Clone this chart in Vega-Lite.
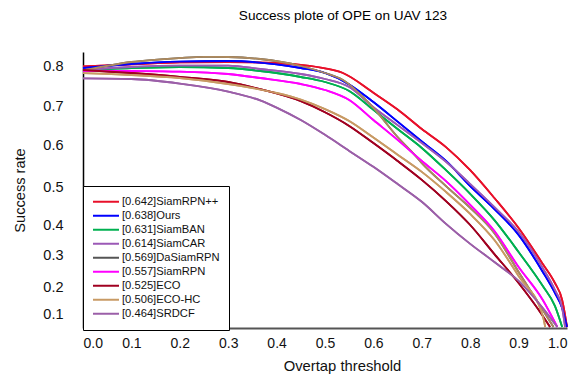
{
  "$schema": "https://vega.github.io/schema/vega-lite/v6.json",
  "width": 484,
  "height": 276,
  "autosize": "none",
  "padding": {"left": 83, "top": 52, "right": 9, "bottom": 47},
  "background": "white",
  "config": {"view": {"stroke": null}, "font": "Liberation Sans"},
  "title": {"text": "Success plote of OPE on UAV 123", "fontSize": 13.6, "fontWeight": "normal", "color": "#000", "frame": "group", "anchor": "middle", "dx": 18, "offset": 29},
  "data": {"values": [
    {"m":"[0.642]SiamRPN++","t":0,"v":0.799},{"m":"[0.642]SiamRPN++","t":0.1,"v":0.804},{"m":"[0.642]SiamRPN++","t":0.2,"v":0.809},{"m":"[0.642]SiamRPN++","t":0.3,"v":0.81},{"m":"[0.642]SiamRPN++","t":0.4,"v":0.8075},{"m":"[0.642]SiamRPN++","t":0.45,"v":0.8025},{"m":"[0.642]SiamRPN++","t":0.5,"v":0.794},{"m":"[0.642]SiamRPN++","t":0.537,"v":0.7825},{"m":"[0.642]SiamRPN++","t":0.6,"v":0.733},{"m":"[0.642]SiamRPN++","t":0.65,"v":0.691},{"m":"[0.642]SiamRPN++","t":0.7,"v":0.641},{"m":"[0.642]SiamRPN++","t":0.75,"v":0.595},{"m":"[0.642]SiamRPN++","t":0.8,"v":0.54},{"m":"[0.642]SiamRPN++","t":0.85,"v":0.471},{"m":"[0.642]SiamRPN++","t":0.9,"v":0.39},{"m":"[0.642]SiamRPN++","t":0.95,"v":0.272},{"m":"[0.642]SiamRPN++","t":0.975,"v":0.2125},{"m":"[0.642]SiamRPN++","t":0.99,"v":0.152},{"m":"[0.642]SiamRPN++","t":0.995,"v":0.107},{"m":"[0.642]SiamRPN++","t":1,"v":0.007},
    {"m":"[0.638]Ours","t":0,"v":0.795},{"m":"[0.638]Ours","t":0.1,"v":0.805},{"m":"[0.638]Ours","t":0.2,"v":0.811},{"m":"[0.638]Ours","t":0.3,"v":0.8125},{"m":"[0.638]Ours","t":0.4,"v":0.804},{"m":"[0.638]Ours","t":0.45,"v":0.795},{"m":"[0.638]Ours","t":0.5,"v":0.7825},{"m":"[0.638]Ours","t":0.55,"v":0.754},{"m":"[0.638]Ours","t":0.6,"v":0.71},{"m":"[0.638]Ours","t":0.65,"v":0.66},{"m":"[0.638]Ours","t":0.7,"v":0.609},{"m":"[0.638]Ours","t":0.75,"v":0.562},{"m":"[0.638]Ours","t":0.8,"v":0.502},{"m":"[0.638]Ours","t":0.85,"v":0.442},{"m":"[0.638]Ours","t":0.9,"v":0.367},{"m":"[0.638]Ours","t":0.95,"v":0.247},{"m":"[0.638]Ours","t":0.975,"v":0.178},{"m":"[0.638]Ours","t":0.99,"v":0.122},{"m":"[0.638]Ours","t":1,"v":0.007},
    {"m":"[0.631]SiamBAN","t":0,"v":0.79},{"m":"[0.631]SiamBAN","t":0.1,"v":0.795},{"m":"[0.631]SiamBAN","t":0.2,"v":0.7975},{"m":"[0.631]SiamBAN","t":0.3,"v":0.795},{"m":"[0.631]SiamBAN","t":0.366,"v":0.7875},{"m":"[0.631]SiamBAN","t":0.45,"v":0.7725},{"m":"[0.631]SiamBAN","t":0.5,"v":0.76},{"m":"[0.631]SiamBAN","t":0.55,"v":0.7375},{"m":"[0.631]SiamBAN","t":0.6,"v":0.69},{"m":"[0.631]SiamBAN","t":0.65,"v":0.641},{"m":"[0.631]SiamBAN","t":0.7,"v":0.593},{"m":"[0.631]SiamBAN","t":0.75,"v":0.54},{"m":"[0.631]SiamBAN","t":0.8,"v":0.482},{"m":"[0.631]SiamBAN","t":0.85,"v":0.413},{"m":"[0.631]SiamBAN","t":0.9,"v":0.31},{"m":"[0.631]SiamBAN","t":0.95,"v":0.203},{"m":"[0.631]SiamBAN","t":0.975,"v":0.13},{"m":"[0.631]SiamBAN","t":0.99,"v":0.007},
    {"m":"[0.614]SiamCAR","t":0,"v":0.79},{"m":"[0.614]SiamCAR","t":0.1,"v":0.7975},{"m":"[0.614]SiamCAR","t":0.2,"v":0.801},{"m":"[0.614]SiamCAR","t":0.3,"v":0.801},{"m":"[0.614]SiamCAR","t":0.366,"v":0.7925},{"m":"[0.614]SiamCAR","t":0.45,"v":0.78},{"m":"[0.614]SiamCAR","t":0.5,"v":0.7675},{"m":"[0.614]SiamCAR","t":0.55,"v":0.7475},{"m":"[0.614]SiamCAR","t":0.6,"v":0.697},{"m":"[0.614]SiamCAR","t":0.65,"v":0.651},{"m":"[0.614]SiamCAR","t":0.7,"v":0.605},{"m":"[0.614]SiamCAR","t":0.75,"v":0.56},{"m":"[0.614]SiamCAR","t":0.8,"v":0.507},{"m":"[0.614]SiamCAR","t":0.85,"v":0.447},{"m":"[0.614]SiamCAR","t":0.9,"v":0.377},{"m":"[0.614]SiamCAR","t":0.95,"v":0.259},{"m":"[0.614]SiamCAR","t":0.975,"v":0.189},{"m":"[0.614]SiamCAR","t":0.99,"v":0.122},{"m":"[0.614]SiamCAR","t":0.996,"v":0.007},
    {"m":"[0.569]DaSiamRPN","t":0,"v":0.789},{"m":"[0.569]DaSiamRPN","t":0.1,"v":0.81},{"m":"[0.569]DaSiamRPN","t":0.2,"v":0.82},{"m":"[0.569]DaSiamRPN","t":0.25,"v":0.823},{"m":"[0.569]DaSiamRPN","t":0.3,"v":0.8225},{"m":"[0.569]DaSiamRPN","t":0.366,"v":0.8175},{"m":"[0.569]DaSiamRPN","t":0.45,"v":0.8},{"m":"[0.569]DaSiamRPN","t":0.5,"v":0.7825},{"m":"[0.569]DaSiamRPN","t":0.537,"v":0.765},{"m":"[0.569]DaSiamRPN","t":0.6,"v":0.695},{"m":"[0.569]DaSiamRPN","t":0.65,"v":0.6205},{"m":"[0.569]DaSiamRPN","t":0.68,"v":0.583},{"m":"[0.569]DaSiamRPN","t":0.7,"v":0.557},{"m":"[0.569]DaSiamRPN","t":0.75,"v":0.502},{"m":"[0.569]DaSiamRPN","t":0.8,"v":0.445},{"m":"[0.569]DaSiamRPN","t":0.85,"v":0.373},{"m":"[0.569]DaSiamRPN","t":0.9,"v":0.247},{"m":"[0.569]DaSiamRPN","t":0.95,"v":0.115},{"m":"[0.569]DaSiamRPN","t":0.972,"v":0.007},
    {"m":"[0.557]SiamRPN","t":0,"v":0.788},{"m":"[0.557]SiamRPN","t":0.1,"v":0.7875},{"m":"[0.557]SiamRPN","t":0.2,"v":0.786},{"m":"[0.557]SiamRPN","t":0.3,"v":0.78},{"m":"[0.557]SiamRPN","t":0.366,"v":0.77},{"m":"[0.557]SiamRPN","t":0.45,"v":0.755},{"m":"[0.557]SiamRPN","t":0.5,"v":0.74},{"m":"[0.557]SiamRPN","t":0.55,"v":0.715},{"m":"[0.557]SiamRPN","t":0.6,"v":0.664},{"m":"[0.557]SiamRPN","t":0.65,"v":0.613},{"m":"[0.557]SiamRPN","t":0.7,"v":0.562},{"m":"[0.557]SiamRPN","t":0.75,"v":0.514},{"m":"[0.557]SiamRPN","t":0.8,"v":0.453},{"m":"[0.557]SiamRPN","t":0.85,"v":0.38},{"m":"[0.557]SiamRPN","t":0.9,"v":0.2625},{"m":"[0.557]SiamRPN","t":0.95,"v":0.152},{"m":"[0.557]SiamRPN","t":0.98,"v":0.007},
    {"m":"[0.525]ECO","t":0,"v":0.79},{"m":"[0.525]ECO","t":0.1,"v":0.7825},{"m":"[0.525]ECO","t":0.2,"v":0.773},{"m":"[0.525]ECO","t":0.3,"v":0.76},{"m":"[0.525]ECO","t":0.366,"v":0.742},{"m":"[0.525]ECO","t":0.45,"v":0.712},{"m":"[0.525]ECO","t":0.5,"v":0.684},{"m":"[0.525]ECO","t":0.55,"v":0.649},{"m":"[0.525]ECO","t":0.6,"v":0.605},{"m":"[0.525]ECO","t":0.65,"v":0.562},{"m":"[0.525]ECO","t":0.7,"v":0.517},{"m":"[0.525]ECO","t":0.75,"v":0.463},{"m":"[0.525]ECO","t":0.8,"v":0.4},{"m":"[0.525]ECO","t":0.85,"v":0.303},{"m":"[0.525]ECO","t":0.9,"v":0.2125},{"m":"[0.525]ECO","t":0.95,"v":0.086},{"m":"[0.525]ECO","t":0.965,"v":0.007},
    {"m":"[0.506]ECO-HC","t":0,"v":0.782},{"m":"[0.506]ECO-HC","t":0.1,"v":0.7775},{"m":"[0.506]ECO-HC","t":0.2,"v":0.77},{"m":"[0.506]ECO-HC","t":0.3,"v":0.755},{"m":"[0.506]ECO-HC","t":0.35,"v":0.745},{"m":"[0.506]ECO-HC","t":0.4,"v":0.7325},{"m":"[0.506]ECO-HC","t":0.45,"v":0.716},{"m":"[0.506]ECO-HC","t":0.5,"v":0.692},{"m":"[0.506]ECO-HC","t":0.55,"v":0.6615},{"m":"[0.506]ECO-HC","t":0.6,"v":0.619},{"m":"[0.506]ECO-HC","t":0.65,"v":0.577},{"m":"[0.506]ECO-HC","t":0.7,"v":0.536},{"m":"[0.506]ECO-HC","t":0.75,"v":0.487},{"m":"[0.506]ECO-HC","t":0.8,"v":0.429},{"m":"[0.506]ECO-HC","t":0.85,"v":0.35},{"m":"[0.506]ECO-HC","t":0.9,"v":0.234},{"m":"[0.506]ECO-HC","t":0.95,"v":0.086},{"m":"[0.506]ECO-HC","t":0.955,"v":0.007},
    {"m":"[0.464]SRDCF","t":0,"v":0.769},{"m":"[0.464]SRDCF","t":0.1,"v":0.7675},{"m":"[0.464]SRDCF","t":0.2,"v":0.756},{"m":"[0.464]SRDCF","t":0.3,"v":0.736},{"m":"[0.464]SRDCF","t":0.366,"v":0.714},{"m":"[0.464]SRDCF","t":0.4,"v":0.696},{"m":"[0.464]SRDCF","t":0.45,"v":0.664},{"m":"[0.464]SRDCF","t":0.5,"v":0.626},{"m":"[0.464]SRDCF","t":0.55,"v":0.586},{"m":"[0.464]SRDCF","t":0.6,"v":0.548},{"m":"[0.464]SRDCF","t":0.65,"v":0.507},{"m":"[0.464]SRDCF","t":0.7,"v":0.461},{"m":"[0.464]SRDCF","t":0.75,"v":0.403},{"m":"[0.464]SRDCF","t":0.8,"v":0.337},{"m":"[0.464]SRDCF","t":0.85,"v":0.278},{"m":"[0.464]SRDCF","t":0.9,"v":0.219},{"m":"[0.464]SRDCF","t":0.95,"v":0.122},{"m":"[0.464]SRDCF","t":0.98,"v":0.007}
  ]},
  "encoding": {
    "x": {"field": "t", "type": "quantitative",
      "scale": {"domain": [0, 1], "nice": false, "zero": false},
      "axis": {"values": [0,0.1,0.2,0.3,0.4,0.5,0.6,0.7,0.8,0.9,1], "format": ".1f", "ticks": false, "grid": false, "labelPadding": 8, "labelFontSize": 14, "labelColor": "#111", "domainColor": "#555", "domainWidth": 2, "title": "Overtap threshold", "titleFontSize": 14.8, "titleFontWeight": "normal", "titleColor": "#111", "titlePadding": 8, "titleX": 259}},
    "y": {"field": "v", "type": "quantitative",
      "scale": {"domain": [0,0.1,0.2,0.3,0.4,0.5,0.6,0.7,0.8,0.835], "range": [276,262,235,203,173,135,93,54,14,0], "nice": false, "zero": false},
      "axis": {"values": [0.1,0.2,0.3,0.4,0.5,0.6,0.7,0.8], "format": ".1f", "ticks": false, "grid": false, "labelPadding": 20, "labelFontSize": 14.5, "labelColor": "#111", "domainColor": "#000", "domainWidth": 1.5, "title": "Success rate", "titleFontSize": 14.6, "titleFontWeight": "normal", "titleColor": "#111", "titlePadding": 15}}
  },
  "layer": [
    {
      "mark": {"type": "line", "strokeWidth": 1.8, "interpolate": "monotone"},
      "encoding": {
        "color": {"field": "m", "type": "nominal",
          "scale": {"domain": ["[0.642]SiamRPN++","[0.638]Ours","[0.631]SiamBAN","[0.614]SiamCAR","[0.569]DaSiamRPN","[0.557]SiamRPN","[0.525]ECO","[0.506]ECO-HC","[0.464]SRDCF"],
                    "range": ["#e8102a","#0000ff","#00b050","#9b59b6","#555555","#ff00ff","#a00020","#c89a64","#9b5fa8"]},
          "legend": {"orient": "none", "legendX": 0, "legendY": 134, "title": null, "padding": 9, "strokeColor": "#000", "fillColor": "#fff", "symbolType": "stroke", "symbolSize": 676, "symbolStrokeWidth": 2, "clipHeight": 13.5, "rowPadding": 0, "labelFontSize": 11.2, "labelColor": "#111", "labelOffset": 2}}
      }
    },
    {
      "mark": {"type": "line", "strokeWidth": 1.8, "interpolate": "monotone"},
      "encoding": {
        "stroke": {"field": "m", "type": "nominal", "legend": null,
          "scale": {"domain": ["[0.642]SiamRPN++","[0.638]Ours","[0.631]SiamBAN","[0.614]SiamCAR","[0.569]DaSiamRPN","[0.557]SiamRPN","[0.525]ECO","[0.506]ECO-HC","[0.464]SRDCF"],
                    "range": ["#e8102a","#0000ff","#00b050","#9b59b6","#ad8a5e","#ff00ff","#a00020","#c89a64","#9b5fa8"]}}
      }
    }
  ]
}
